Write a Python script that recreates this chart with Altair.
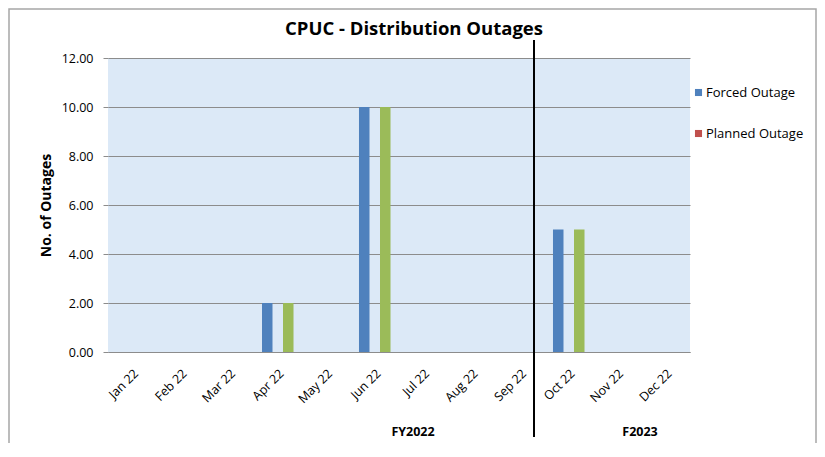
import altair as alt
import pandas as pd

months = ["Jan 22", "Feb 22", "Mar 22", "Apr 22", "May 22", "Jun 22",
          "Jul 22", "Aug 22", "Sep 22", "Oct 22", "Nov 22", "Dec 22"]
forced = [0, 0, 0, 2, 0, 10, 0, 0, 0, 5, 0, 0]
planned = [0, 0, 0, 0, 0, 0, 0, 0, 0, 0, 0, 0]
total = [0, 0, 0, 2, 0, 10, 0, 0, 0, 5, 0, 0]
series = ["Forced Outage", "Planned Outage", "Total Outage"]
colors = ["#4f81bd", "#c0504d", "#9bbb59"]

rows = []
for i, m in enumerate(months):
    rows.append({"month": m, "series": series[0], "value": forced[i]})
    rows.append({"month": m, "series": series[1], "value": planned[i]})
    rows.append({"month": m, "series": series[2], "value": total[i]})
df = pd.DataFrame(rows)
one = pd.DataFrame({"k": [0]})

FONT = "Open Sans"
W, H = 582, 294

bars = alt.Chart(df).mark_bar(opacity=1).encode(
    x=alt.X("month:N", sort=months,
            scale=alt.Scale(paddingInner=0.35, paddingOuter=0.175),
            axis=alt.Axis(title=None, labelAngle=-45, labelAlign="right",
                          labelBaseline="middle", labelFont=FONT, labelFontSize=12.5,
                          labelColor="#000000", ticks=False, domainColor="#8c8c8c",
                          labelPadding=19, labelOffset=4, grid=False)),
    xOffset=alt.XOffset("series:N", sort=series,
                        scale=alt.Scale(paddingInner=0, paddingOuter=0)),
    y=alt.Y("value:Q", scale=alt.Scale(domain=[0, 12]),
            axis=alt.Axis(title="No. of Outages", values=[0, 2, 4, 6, 8, 10, 12],
                          format=".2f", labelFont=FONT, labelFontSize=12.5,
                          labelColor="#000000", titleFont=FONT, titleFontSize=14,
                          titleFontWeight="bold", titleColor="#000000",
                          titlePadding=8, domain=False, tickColor="#8c8c8c",
                          tickSize=5, labelPadding=10, gridColor="#8c8c8c",
                          gridWidth=1.2)),
    color=alt.Color("series:N", sort=series,
                    scale=alt.Scale(domain=series, range=colors),
                    legend=alt.Legend(values=series[:2], title=None, orient="none",
                                      legendX=584, legendY=28, symbolType="square",
                                      symbolSize=50, symbolStrokeWidth=0,
                                      labelFont=FONT, labelFontSize=13,
                                      labelColor="#000000", rowPadding=27,
                                      labelOffset=1)),
)

divider = alt.Chart(one).mark_rule(color="#000000", strokeWidth=2).encode(
    x=alt.value(426), y=alt.value(-18), y2=alt.value(379))

title = alt.Chart(one).mark_text(text="CPUC - Distribution Outages", font=FONT,
                                 fontSize=18.5, fontWeight="bold", color="#000000"
                                 ).encode(x=alt.value(306), y=alt.value(-29))

fy1 = alt.Chart(one).mark_text(text="FY2022", font=FONT, fontSize=12.5,
                               fontWeight="bold", color="#000000"
                               ).encode(x=alt.value(305), y=alt.value(374))
fy2 = alt.Chart(one).mark_text(text="F2023", font=FONT, fontSize=12.5,
                               fontWeight="bold", color="#000000"
                               ).encode(x=alt.value(532), y=alt.value(374))

border = alt.Chart(one).mark_rect(fill=None, stroke="#a6a6a6", strokeWidth=1.5
                                  ).encode(x=alt.value(-99), x2=alt.value(708),
                                           y=alt.value(-49), y2=alt.value(420))

chart = alt.layer(border, bars, divider, title, fy1, fy2).properties(
    width=W, height=H,
    autosize=alt.AutoSizeParams(type="none"),
    padding={"left": 100, "top": 50, "right": 127, "bottom": 91},
    background="#ffffff",
).configure_view(fill="#dce9f7", stroke=None)

chart.save("out.html", embed_options={"renderer": "svg", "actions": False})
